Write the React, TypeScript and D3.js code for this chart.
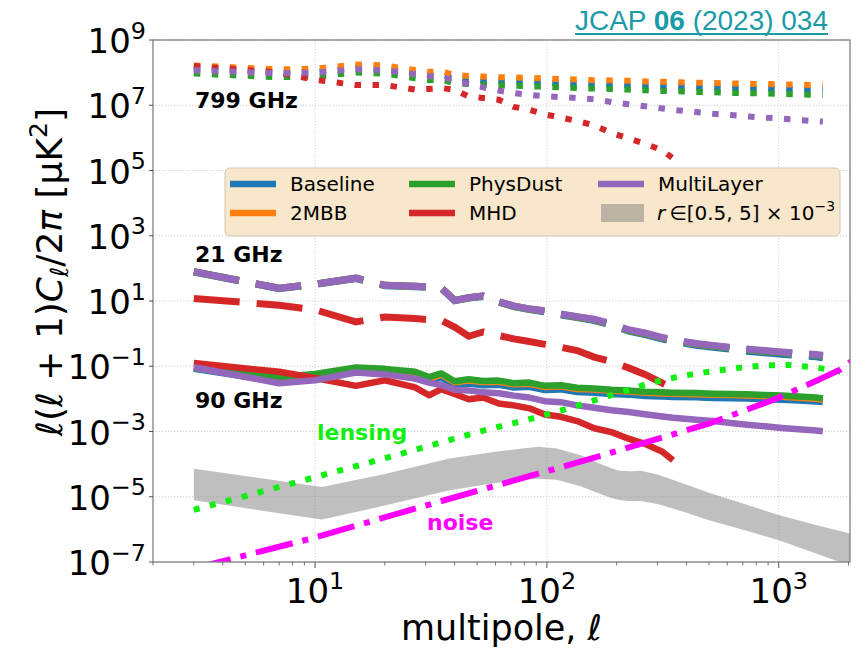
import * as d3 from "d3";

const W = 856;
const H = 649;
const plot = { left: 153, right: 850, top: 40, bottom: 562 };

// multipole bins used for the model curves
const ell = [3, 7, 10, 15, 20, 27, 31, 35, 40, 46, 53, 62, 72, 84, 98, 115, 135, 160, 190, 225, 265, 315, 350, 440, 520, 620, 730, 870, 1030, 1220, 1450, 1550];
const ellMHD = ell.slice(0, 23);

// log10 of l(l+1)C_l/2pi, 799 GHz
const base799 = [8.12, 8.0, 8.02, 8.15, 8.12, 7.98, 7.92, 7.94, 7.81, 7.79, 7.76, 7.74, 7.73, 7.71, 7.69, 7.67, 7.66, 7.64, 7.62, 7.61, 7.59, 7.58, 7.57, 7.55, 7.54, 7.53, 7.52, 7.51, 7.5, 7.49, 7.48, 7.48];
const mbb799 = [8.22, 8.1, 8.12, 8.25, 8.22, 8.08, 8.02, 8.05, 7.92, 7.9, 7.88, 7.86, 7.85, 7.84, 7.82, 7.8, 7.79, 7.77, 7.76, 7.75, 7.73, 7.72, 7.71, 7.69, 7.68, 7.67, 7.66, 7.65, 7.64, 7.63, 7.62, 7.62];
const phys799 = [7.97, 7.86, 7.88, 8.0, 7.97, 7.83, 7.77, 7.79, 7.67, 7.65, 7.63, 7.61, 7.6, 7.58, 7.57, 7.55, 7.53, 7.51, 7.5, 7.48, 7.46, 7.44, 7.43, 7.41, 7.4, 7.38, 7.37, 7.36, 7.35, 7.33, 7.32, 7.31];
const mhd799 = [8.2, 8.0, 7.78, 7.62, 7.62, 7.48, 7.5, 7.53, 7.47, 7.27, 7.22, 7.17, 6.95, 6.86, 6.72, 6.62, 6.52, 6.38, 6.15, 5.98, 5.82, 5.62, 5.37];
const ml799 = [8.07, 7.98, 8.0, 8.1, 8.07, 7.95, 7.9, 7.88, 7.75, 7.65, 7.55, 7.45, 7.37, 7.32, 7.28, 7.25, 7.22, 7.18, 7.1, 7.03, 6.97, 6.9, 6.86, 6.79, 6.74, 6.7, 6.66, 6.62, 6.59, 6.55, 6.51, 6.5];

// 21 GHz
const base21 = [1.89, 1.38, 1.51, 1.69, 1.47, 1.44, 1.42, 1.39, 1.01, 1.09, 1.14, 0.96, 0.83, 0.74, 0.67, 0.57, 0.49, 0.4, 0.26, 0.08, -0.03, -0.17, -0.23, -0.36, -0.42, -0.48, -0.54, -0.59, -0.63, -0.67, -0.71, -0.74];
const dust21 = [1.9, 1.39, 1.52, 1.7, 1.48, 1.45, 1.43, 1.4, 1.02, 1.1, 1.15, 0.97, 0.84, 0.75, 0.69, 0.59, 0.51, 0.42, 0.28, 0.1, 0.0, -0.14, -0.2, -0.32, -0.38, -0.44, -0.49, -0.54, -0.58, -0.62, -0.66, -0.69];
const mhd21 = [1.08, 0.87, 0.73, 0.36, 0.51, 0.46, 0.43, 0.41, 0.2, -0.08, 0.05, -0.06, -0.16, -0.24, -0.33, -0.42, -0.52, -0.72, -0.86, -1.05, -1.25, -1.52, -1.68];
const ml21 = [1.9, 1.39, 1.52, 1.7, 1.48, 1.45, 1.43, 1.4, 1.02, 1.1, 1.16, 0.98, 0.85, 0.76, 0.7, 0.6, 0.52, 0.44, 0.3, 0.12, 0.02, -0.12, -0.18, -0.3, -0.36, -0.42, -0.47, -0.52, -0.56, -0.6, -0.64, -0.66];

// 90 GHz
const base90 = [-1.08, -1.47, -1.4, -1.17, -1.22, -1.33, -1.45, -1.35, -1.58, -1.53, -1.58, -1.57, -1.65, -1.63, -1.73, -1.71, -1.79, -1.81, -1.85, -1.87, -1.91, -1.93, -1.94, -1.95, -1.97, -1.98, -1.99, -2.01, -2.03, -2.05, -2.08, -2.1];
const mbb90 = [-1.06, -1.45, -1.38, -1.15, -1.2, -1.3, -1.4, -1.27, -1.51, -1.45, -1.5, -1.49, -1.57, -1.55, -1.65, -1.63, -1.71, -1.73, -1.77, -1.79, -1.83, -1.85, -1.86, -1.87, -1.89, -1.9, -1.91, -1.93, -1.95, -1.98, -2.01, -2.04];
const phys90 = [-1.05, -1.33, -1.24, -1.04, -1.08, -1.17, -1.33, -1.22, -1.46, -1.4, -1.45, -1.44, -1.52, -1.5, -1.6, -1.58, -1.66, -1.68, -1.72, -1.74, -1.78, -1.8, -1.81, -1.82, -1.84, -1.85, -1.86, -1.88, -1.9, -1.93, -1.96, -1.99];
const mhd90 = [-0.9, -1.17, -1.36, -1.6, -1.43, -1.65, -1.89, -1.7, -1.85, -2.01, -1.96, -2.14, -2.2, -2.29, -2.48, -2.55, -2.68, -2.9, -3.02, -3.22, -3.38, -3.62, -3.88];
const ml90 = [-1.03, -1.52, -1.43, -1.19, -1.25, -1.38, -1.5, -1.58, -1.72, -1.74, -1.8, -1.83, -1.9, -1.96, -2.07, -2.1, -2.2, -2.27, -2.35, -2.4, -2.47, -2.54, -2.58, -2.64, -2.68, -2.74, -2.79, -2.84, -2.89, -2.93, -2.97, -2.99];

// lensing B-modes
const ellLens = [3, 5, 10, 20, 30, 50, 90, 130, 170, 210, 280, 380, 500, 650, 885, 1100, 1455, 1800, 2100];
const lensing = [-5.4, -4.98, -4.4, -3.82, -3.47, -3.02, -2.57, -2.25, -1.99, -1.79, -1.51, -1.3, -1.17, -1.06, -0.97, -0.96, -1.04, -1.15, -1.28];

// noise
const ellNoise = [3, 10, 34, 147, 500, 980, 1400, 1850, 2100];
const noise = [-7.2, -6.25, -5.16, -3.88, -2.76, -1.99, -1.5, -1.1, -0.8];

// primordial band r in [0.5, 5]e-3
const ellBand = [3, 10.7, 20, 38, 60, 80, 92, 110, 140, 168, 190, 205, 230, 254, 300, 385, 500, 632, 800, 1010, 1500, 2100];
const bandHi = [-4.14, -4.7, -4.3, -3.83, -3.62, -3.51, -3.47, -3.52, -3.73, -3.98, -4.13, -4.2, -4.22, -4.2, -4.32, -4.59, -4.88, -5.11, -5.34, -5.57, -5.9, -6.15];
const bandLo = [-5.11, -5.7, -5.27, -4.8, -4.58, -4.48, -4.45, -4.48, -4.68, -4.9, -5.04, -5.1, -5.14, -5.13, -5.22, -5.45, -5.72, -5.92, -6.13, -6.34, -6.78, -7.15];

const xMajor = [10, 100, 1000];
const yLabelled = [9, 7, 5, 3, 1, -1, -3, -5, -7];

const C = {
  Baseline: "#1f77b4",
  "2MBB": "#ff7f0e",
  PhysDust: "#2ca02c",
  MHD: "#d62728",
  MultiLayer: "#9467bd",
};

const x = d3.scaleLog().domain([2, 2030]).range([plot.left, plot.right]);
const y = d3.scaleLog().domain([1e-7, 1e9]).range([plot.bottom, plot.top]);

const line = (ls: number[], vs: number[]) =>
  d3.line<number>()
    .x((_, i) => x(ls[i]))
    .y((v) => y(Math.pow(10, v)))(vs) as string;

const area = d3.area<number>()
  .x((_, i) => x(ellBand[i]))
  .y0((_, i) => y(Math.pow(10, bandLo[i])))
  .y1((v) => y(Math.pow(10, v)));

const FONT = "DejaVu Sans, sans-serif";

const dotted = "6.5,11.5";
const dashed = "46,17";

type S = { name: keyof typeof C; ls: number[]; vs: number[] };

const s799: S[] = [
  { name: "Baseline", ls: ell, vs: base799 },
  { name: "2MBB", ls: ell, vs: mbb799 },
  { name: "PhysDust", ls: ell, vs: phys799 },
  { name: "MHD", ls: ellMHD, vs: mhd799 },
  { name: "MultiLayer", ls: ell, vs: ml799 },
];
const s21: S[] = [
  { name: "Baseline", ls: ell, vs: base21 },
  { name: "2MBB", ls: ell, vs: dust21 },
  { name: "PhysDust", ls: ell, vs: dust21 },
  { name: "MHD", ls: ellMHD, vs: mhd21 },
  { name: "MultiLayer", ls: ell, vs: ml21 },
];
const s90: S[] = [
  { name: "Baseline", ls: ell, vs: base90 },
  { name: "2MBB", ls: ell, vs: mbb90 },
  { name: "PhysDust", ls: ell, vs: phys90 },
  { name: "MHD", ls: ellMHD, vs: mhd90 },
  { name: "MultiLayer", ls: ell, vs: ml90 },
];

const minorX: number[] = [];
[1, 10, 100, 1000].forEach((d) => {
  for (let k = 2; k <= 9; k++) {
    const v = k * d;
    if (v >= 2 && v <= 2030) minorX.push(v);
  }
});

const Pow = ({ exp, size }: { exp: number; size: number }) => (
  <>
    <tspan>10</tspan>
    <tspan fontSize={size * 0.7} dy={-size * 0.42}>
      {exp < 0 ? "\u2212" + Math.abs(exp) : exp}
    </tspan>
  </>
);

const legendCols = [
  { x: 230, items: [["Baseline", C.Baseline], ["2MBB", C["2MBB"]]] },
  { x: 409, items: [["PhysDust", C.PhysDust], ["MHD", C.MHD]] },
  { x: 598, items: [["MultiLayer", C.MultiLayer]] },
];

export default function App() {
  return (
    <svg width={W} height={H} style={{ position: "absolute", left: 0, top: 0, background: "#fff" }} fontFamily={FONT}>
      <defs>
        <clipPath id="plotclip">
          <rect x={plot.left} y={plot.top} width={plot.right - plot.left} height={plot.bottom - plot.top} />
        </clipPath>
      </defs>

      {/* grid */}
      <g stroke="#c4c4c4" strokeWidth={0.8} strokeDasharray="1.2,1.8">
        {xMajor.map((v) => (
          <line key={v} x1={x(v)} x2={x(v)} y1={plot.top} y2={plot.bottom} />
        ))}
        {yLabelled.map((e) => (
          <line key={e} x1={plot.left} x2={plot.right} y1={y(Math.pow(10, e))} y2={y(Math.pow(10, e))} />
        ))}
      </g>

      <g clipPath="url(#plotclip)" fill="none">
        <path d={area(bandHi) as string} fill="#808080" fillOpacity={0.5} stroke="none" />

        {s799.map((s, i) => (
          <path key={"a" + i} d={line(s.ls, s.vs)} stroke={C[s.name]} strokeWidth={6} strokeDasharray={dotted} />
        ))}
        {s21.map((s, i) => (
          <path key={"b" + i} d={line(s.ls, s.vs)} stroke={C[s.name]} strokeWidth={7} strokeDasharray={dashed} />
        ))}
        {s90.map((s, i) => (
          <path key={"c" + i} d={line(s.ls, s.vs)} stroke={C[s.name]} strokeWidth={s.name === "2MBB" ? 5.5 : 6.5} strokeLinejoin="round" />
        ))}

        <path d={line(ellLens, lensing)} stroke="#11ee11" strokeWidth={6} strokeDasharray="6,10.5" />
        <path d={line(ellNoise, noise)} stroke="#ff00ff" strokeWidth={6} strokeDasharray="38,10,6,10" />
      </g>

      {/* frame */}
      <rect x={plot.left} y={plot.top} width={plot.right - plot.left} height={plot.bottom - plot.top} fill="none" stroke="#808080" strokeWidth={1.3} />

      {/* ticks */}
      <g stroke="#555">
        {xMajor.map((v) => (
          <line key={v} x1={x(v)} x2={x(v)} y1={plot.bottom} y2={plot.bottom + 6} strokeWidth={1} />
        ))}
        {minorX.map((v) => (
          <line key={v} x1={x(v)} x2={x(v)} y1={plot.bottom} y2={plot.bottom + 3.5} strokeWidth={0.8} />
        ))}
        {yLabelled.map((e) => (
          <line key={e} x1={plot.left - 4} x2={plot.left} y1={y(Math.pow(10, e))} y2={y(Math.pow(10, e))} strokeWidth={1} />
        ))}
      </g>

      {/* tick labels */}
      <g fontSize={34} fill="#000">
        {yLabelled.map((e) => (
          <text key={e} x={plot.left - 7} y={y(Math.pow(10, e)) + 13} textAnchor="end">
            <Pow exp={e} size={34} />
          </text>
        ))}
        {xMajor.map((v) => (
          <text key={v} x={x(v)} y={603} textAnchor="middle">
            <Pow exp={Math.round(Math.log10(v))} size={34} />
          </text>
        ))}
      </g>

      {/* axis titles */}
      <text x={(plot.left + plot.right) / 2} y={640} textAnchor="middle" fontSize={35}>
        multipole, <tspan fontStyle="italic">ℓ</tspan>
      </text>
      <text transform="translate(62,272) rotate(-90)" textAnchor="middle" fontSize={36}>
        <tspan fontStyle="italic">ℓ</tspan>(<tspan fontStyle="italic">ℓ</tspan> + 1)
        <tspan fontStyle="italic">C</tspan>
        <tspan fontStyle="italic" fontSize={25} dy={6}>ℓ</tspan>
        <tspan dy={-6}>/2</tspan>
        <tspan fontStyle="italic">π</tspan>
        <tspan> [μK</tspan>
        <tspan fontSize={25} dy={-15}>2</tspan>
        <tspan dy={15}>]</tspan>
      </text>

      {/* annotations */}
      <g fontSize={22} fontWeight="bold">
        <text x={195} y={108}>799 GHz</text>
        <text x={195} y={262}>21 GHz</text>
        <text x={195} y={408}>90 GHz</text>
        <text x={317} y={440} fill="#11ee11">lensing</text>
        <text x={427} y={530} fill="#ff00ff">noise</text>
      </g>

      {/* legend */}
      <g>
        <rect x={225} y={168} width={615} height={68} rx={5} fill="#f8e7cb" stroke="#cfc6b6" strokeWidth={1} />
        {legendCols.map((col, ci) =>
          col.items.map(([label, color], ri) => (
            <g key={ci + "-" + ri}>
              <line x1={col.x} x2={col.x + 46} y1={184 + ri * 29} y2={184 + ri * 29} stroke={color} strokeWidth={6.5} />
              <text x={col.x + 60} y={191 + ri * 29} fontSize={20}>{label}</text>
            </g>
          ))
        )}
        <rect x={601} y={204} width={43} height={18} fill="#808080" fillOpacity={0.5} />
        <text x={657} y={220} fontSize={20}>
          <tspan fontStyle="italic">r</tspan>
          <tspan>{"\u2009∈[0.5, 5] × 10"}</tspan>
          <tspan fontSize={14} dy={-9}>{"\u22123"}</tspan>
        </text>
      </g>

      {/* reference */}
      <text x={575} y={29.5} fontSize={28} fill="#1a9ba6" fontFamily="Liberation Sans, Arial, sans-serif" textLength={253} lengthAdjust="spacingAndGlyphs">
        JCAP <tspan fontWeight="bold">06</tspan> (2023) 034
      </text>
      <line x1={575} x2={828} y1={34} y2={34} stroke="#1a9ba6" strokeWidth={2} />
    </svg>
  );
}
